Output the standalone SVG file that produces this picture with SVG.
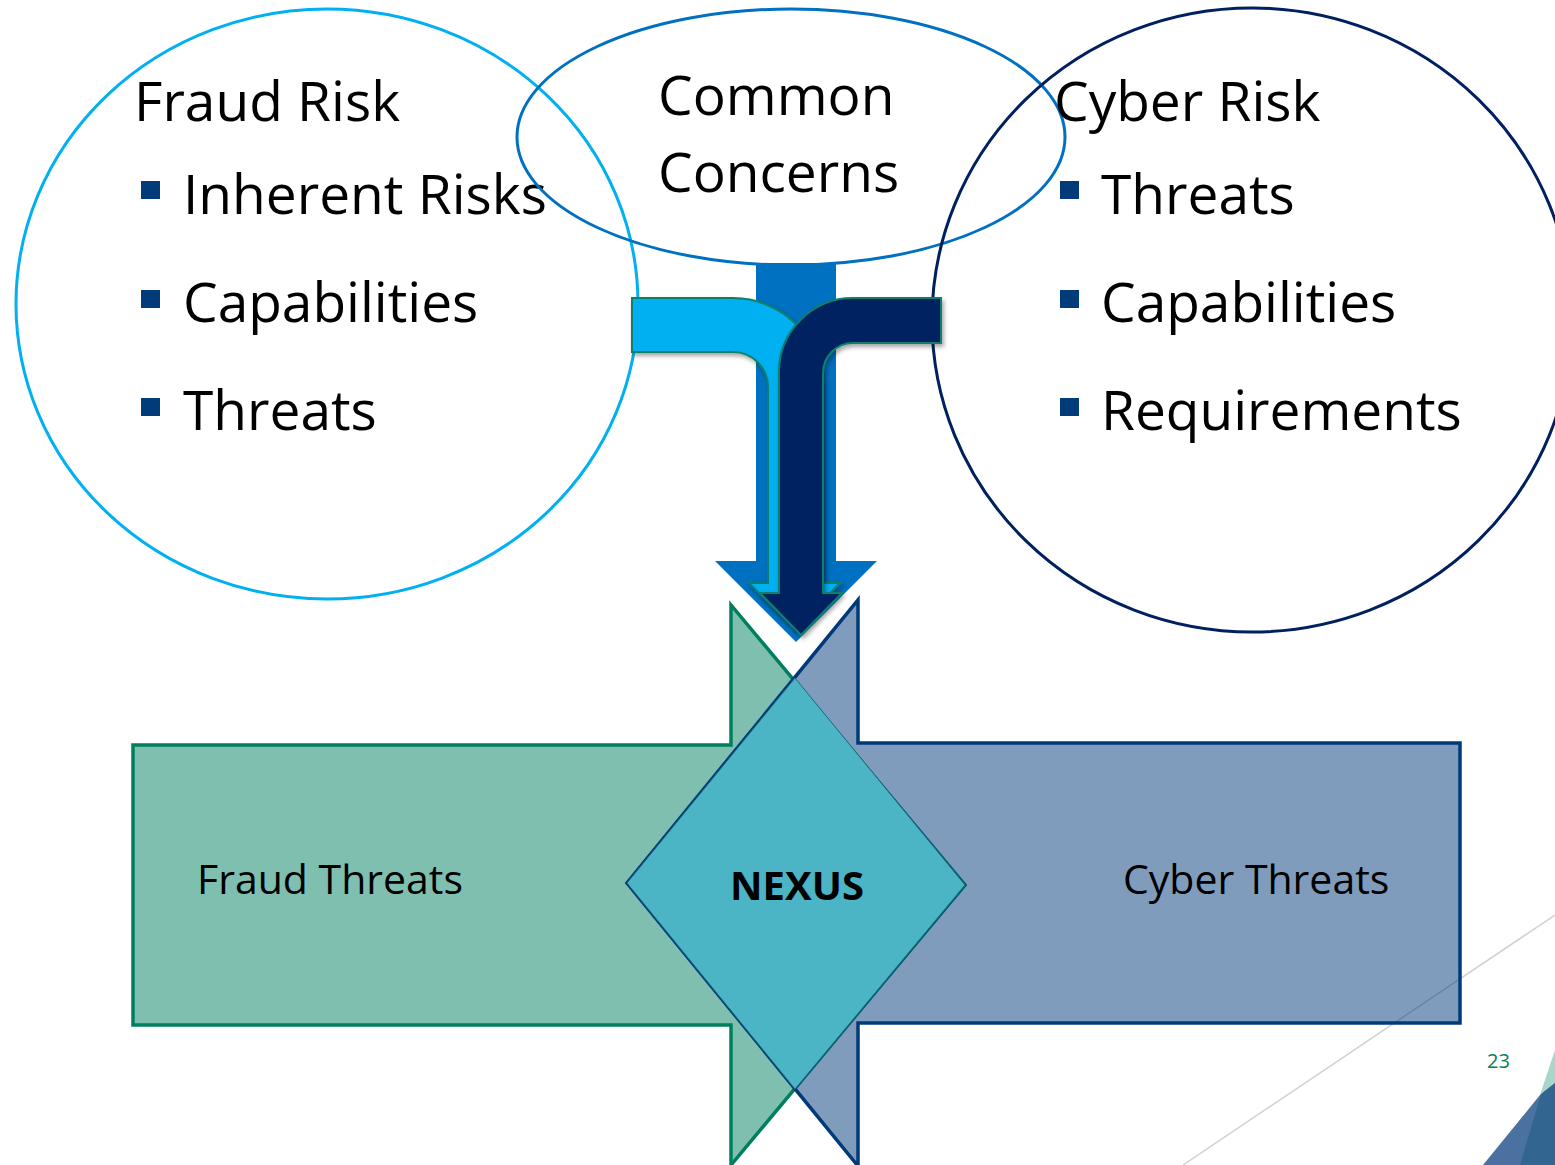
<svg xmlns="http://www.w3.org/2000/svg" width="1555" height="1165" viewBox="0 0 1555 1165">
  <defs>
    <filter id="shadow" x="-20%" y="-20%" width="150%" height="150%">
      <feDropShadow dx="2" dy="3" stdDeviation="2" flood-color="#000" flood-opacity="0.35"/>
    </filter>
  </defs>
  <style>
    .txt { font-family: 'Open Sans', 'Liberation Sans', sans-serif; fill: #000; }
    .big { font-size: 55px; }
    .mid { font-size: 41px; }
    .ring { fill: none; stroke-width: 3; }
    .bullet { fill: #023B7A; }
    .bend { stroke: #0E7F6A; stroke-width: 2; stroke-linejoin: miter; filter: url(#shadow); }
  </style>

  <rect width="1555" height="1165" fill="#fff"/>

  <!-- decorative slide corner -->
  <g id="corner">
    <line x1="1183" y1="1165" x2="1555" y2="915" stroke="#D0D0D0" stroke-width="1.5"/>
    <polygon points="1555,1050 1540,1095 1555,1083" fill="#A9D6CB"/>
    <polygon points="1483,1165 1540,1095 1555,1083 1555,1165" fill="#4A71A0"/>
    <polygon points="1520,1165 1541,1094 1555,1083 1555,1165" fill="#336591"/>
    <text class="txt" x="1487" y="1068" font-size="20" style="fill:#008060">23</text>
  </g>

  <!-- risk areas -->
  <g id="fraud-risk">
    <ellipse class="ring" cx="327" cy="304" rx="311" ry="295" stroke="#00B0F0"/>
    <text class="txt big" x="134" y="121">Fraud Risk</text>
    <rect class="bullet" x="141" y="181" width="19" height="18"/>
    <text class="txt big" x="183" y="214">Inherent Risks</text>
    <rect class="bullet" x="141" y="290" width="19" height="18"/>
    <text class="txt big" x="183" y="322">Capabilities</text>
    <rect class="bullet" x="141" y="398" width="19" height="18"/>
    <text class="txt big" x="183" y="430">Threats</text>
  </g>

  <g id="common-concerns">
    <ellipse class="ring" cx="791" cy="137" rx="274" ry="128" stroke="#0070C0"/>
    <text class="txt big" x="658" y="115">Common</text>
    <text class="txt big" x="658" y="192">Concerns</text>
  </g>

  <g id="cyber-risk">
    <ellipse class="ring" cx="1252" cy="320" rx="320" ry="312" stroke="#002060"/>
    <text class="txt big" x="1054" y="121">Cyber Risk</text>
    <rect class="bullet" x="1060" y="181" width="19" height="18"/>
    <text class="txt big" x="1101" y="214">Threats</text>
    <rect class="bullet" x="1060" y="290" width="19" height="18"/>
    <text class="txt big" x="1101" y="322">Capabilities</text>
    <rect class="bullet" x="1060" y="398" width="19" height="18"/>
    <text class="txt big" x="1101" y="430">Requirements</text>
  </g>

  <!-- flows from the risk areas down into the nexus -->
  <g id="connectors">
    <path id="common-flow" d="M756 263 L836 263 L836 561 L877 561 L796 642 L715 561 L756 561 Z" fill="#0070C0"/>
    <path id="fraud-flow" class="bend" fill="#00B0F0"
          d="M632 298 L733 298 A89 89 0 0 1 822 387 L822 583 L840 583 L795 629 L749 583 L768 583 L768 387 A35 35 0 0 0 733 352 L632 352 Z"/>
    <path id="cyber-flow" class="bend" fill="#002060"
          d="M941 298 L853 298 A74 74 0 0 0 779 372 L779 593 L760 593 L801 635 L842 593 L823 593 L823 373 A30 30 0 0 1 853 343 L941 343 Z"/>
  </g>

  <!-- threat arrows meeting in the nexus -->
  <g id="fraud-threats">
    <path d="M133 745 L731 745 L731 605 L965 885 L731 1165 L731 1025 L133 1025 Z"
          fill="#007F5F" fill-opacity="0.5" stroke="#007F5F" stroke-width="3.5" stroke-linejoin="miter"/>
    <text class="txt mid" x="197" y="894">Fraud Threats</text>
  </g>

  <g id="cyber-threats">
    <path d="M1460 743 L858 743 L858 600 L627 883 L858 1166 L858 1023 L1460 1023 Z"
          fill="#003A79" fill-opacity="0.5" stroke="#003A79" stroke-width="3.5" stroke-linejoin="miter"/>
    <text class="txt mid" x="1123" y="894">Cyber Threats</text>
  </g>

  <g id="nexus">
    <polygon points="795,678 965,885 795,1089 627,883" fill="#4BB4C5" stroke="#1D6B7C" stroke-width="1"/>
    <text class="txt" x="797" y="900" font-size="40" font-weight="bold" text-anchor="middle">NEXUS</text>
  </g>
</svg>
